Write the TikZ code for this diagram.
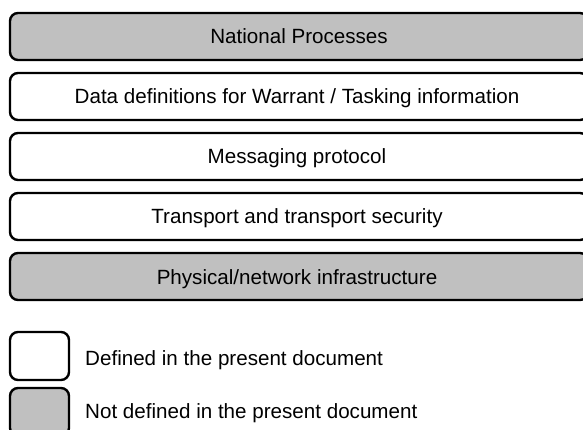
\documentclass[tikz,border=0pt]{standalone}
\usepackage{fontspec}
\setmainfont{Liberation Sans}
\definecolor{layergray}{HTML}{C0C0C0}
\tikzset{
  layer/.style={draw=black, line width=2.4pt, rounded corners=8pt},
  deflayer/.style={layer, fill=white},
  ndeflayer/.style={layer, fill=layergray},
  lbl/.style={font=\fontsize{20.6pt}{24pt}\selectfont, inner sep=0pt, anchor=base},
  leglbl/.style={font=\fontsize{20.6pt}{24pt}\selectfont, inner sep=0pt, anchor=base west}
}
\begin{document}
\begin{tikzpicture}[x=1pt,y=-1pt]
\useasboundingbox (0,0) rectangle (583,430);
\clip (0,0) rectangle (583,430);
% layers
\draw[ndeflayer] (10,13) rectangle (588,60);
\node[lbl] (l1) at (299,44) {National Processes};
\draw[deflayer] (10,73) rectangle (588,120);
\node[lbl] (l2) at (297,104) {Data definitions for Warrant / Tasking information};
\draw[deflayer] (10,133) rectangle (588,180);
\node[lbl] (l3) at (297,164) {Messaging protocol};
\draw[deflayer] (10,193) rectangle (588,240);
\node[lbl] (l4) at (297,224) {Transport and transport security};
\draw[ndeflayer] (10,253) rectangle (588,300);
\node[lbl] (l5) at (297,284) {Physical/network infrastructure};
% legend
\draw[deflayer] (10,332) rectangle (69,380);
\node[leglbl] (k1) at (85,365) {Defined in the present document};
\draw[ndeflayer] (10,388) rectangle (69,436);
\node[leglbl] (k2) at (85,418) {Not defined in the present document};
\end{tikzpicture}
\end{document}
